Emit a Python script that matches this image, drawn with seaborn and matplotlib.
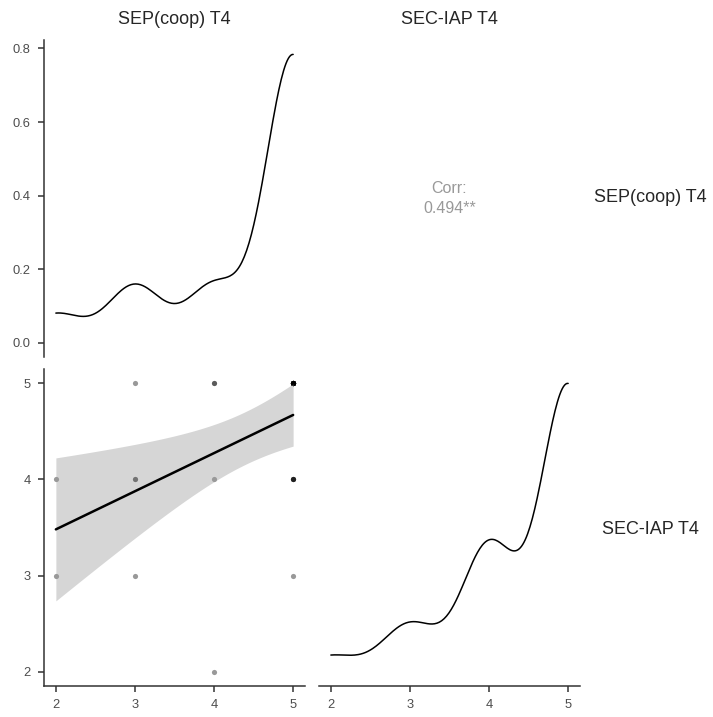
import numpy as np
import pandas as pd
import matplotlib
matplotlib.use("Agg")
import matplotlib.pyplot as plt
import seaborn as sns

# (SEP, SEC) answer pairs and how many respondents gave each pair
sep_vals = [2, 2, 3, 3, 3, 4, 4, 4, 5, 5, 5]
sec_vals = [3, 4, 3, 4, 5, 2, 4, 5, 3, 4, 5]
counts = [1, 1, 1, 2, 1, 1, 1, 2, 1, 4, 15]
var_names = ["SEP(coop) T4", "SEC-IAP T4"]
corr_value = 0.494
corr_stars = "**"
tick_vals = [2, 3, 4, 5]
dens_ticks = [0.0, 0.2, 0.4, 0.6, 0.8]

df = pd.DataFrame({
    var_names[0]: np.repeat(sep_vals, counts),
    var_names[1]: np.repeat(sec_vals, counts),
})

sns.set_style("ticks")
plt.rcParams["font.family"] = ["Liberation Sans", "DejaVu Sans"]

W, H = 713, 717
fig = plt.figure(figsize=(W / 100, H / 100), dpi=100)

AX_COL = "#333333"
TICK_COL = "#4d4d4d"
STRIP_COL = "#262626"


def px_axes(x0, y0, x1, y1):
    return fig.add_axes([x0 / W, 1 - y1 / H, (x1 - x0) / W, (y1 - y0) / H])


def r_bw(x):
    # R's bw.nrd0
    x = np.asarray(x, float)
    sd = x.std(ddof=1)
    iqr = np.percentile(x, 75) - np.percentile(x, 25)
    lo = min(sd, iqr / 1.34)
    return 0.9 * lo * len(x) ** -0.2


def style(ax, left=True, bottom=True):
    for s in ["top", "right"]:
        ax.spines[s].set_visible(False)
    ax.spines["left"].set_visible(left)
    ax.spines["bottom"].set_visible(bottom)
    for s in ["left", "bottom"]:
        ax.spines[s].set_color(AX_COL)
        ax.spines[s].set_linewidth(1.1)
    ax.tick_params(axis="both", length=4.5, width=1.1, color=AX_COL,
                   labelsize=9.3, labelcolor=TICK_COL, pad=5)
    if not left:
        ax.tick_params(axis="y", left=False, labelleft=False)
    if not bottom:
        ax.tick_params(axis="x", bottom=False, labelbottom=False)
    ax.set_xlabel("")
    ax.set_ylabel("")


def density(ax, col):
    x = df[col]
    bw = r_bw(x) / x.std(ddof=1)
    sns.kdeplot(x=x, bw_method=bw, cut=0, color="black", linewidth=1.1, ax=ax)
    ymax = ax.lines[-1].get_ydata().max()
    ax.set_ylim(-0.05 * ymax, 1.05 * ymax)


xlim = (1.85, 5.15)

# top-left: density of SEP
ax_tl = px_axes(44, 40, 305, 357)
density(ax_tl, var_names[0])
ax_tl.set_xlim(xlim)
ax_tl.set_yticks(dens_ticks)
ax_tl.set_yticklabels([f"{v:.1f}" for v in dens_ticks])
style(ax_tl, left=True, bottom=False)

# top-right: correlation text
ax_tr = px_axes(319, 40, 580, 357)
ax_tr.axis("off")
ax_tr.text(0.5, 0.5, f"Corr:\n{corr_value:.3f}{corr_stars}", ha="center", va="center",
           color="#999999", fontsize=11.5, linespacing=1.35, transform=ax_tr.transAxes)

# bottom-left: scatter + lm fit
ax_bl = px_axes(44, 369, 305, 686)
xs, ys = df[var_names[0]].to_numpy(float), df[var_names[1]].to_numpy(float)
sns.scatterplot(x=xs, y=ys, color="black", alpha=0.4, s=14, linewidth=0, ax=ax_bl, zorder=1)
b1, b0 = np.polyfit(xs, ys, 1)
n = len(xs)
resid = ys - (b0 + b1 * xs)
s = np.sqrt((resid ** 2).sum() / (n - 2))
sxx = ((xs - xs.mean()) ** 2).sum()
try:
    from scipy import stats
    tq = stats.t.ppf(0.975, n - 2)
except Exception:
    tq = 2.048
grid = np.linspace(xs.min(), xs.max(), 80)
fit = b0 + b1 * grid
se = s * np.sqrt(1 / n + (grid - xs.mean()) ** 2 / sxx)
ax_bl.fill_between(grid, fit - tq * se, fit + tq * se, color="#999999", alpha=0.4,
                   linewidth=0, zorder=2)
sns.lineplot(x=grid, y=fit, color="black", linewidth=1.8, zorder=3, ax=ax_bl)
ax_bl.set_xlim(xlim)
ax_bl.set_ylim(xlim)
ax_bl.set_xticks(tick_vals)
ax_bl.set_yticks(tick_vals)
style(ax_bl, left=True, bottom=True)

# bottom-right: density of SEC
ax_br = px_axes(319, 369, 580, 686)
density(ax_br, var_names[1])
ax_br.set_xlim(xlim)
ax_br.set_xticks(tick_vals)
style(ax_br, left=False, bottom=True)

# strip labels
for cx, name in zip([174.5, 449.5], var_names):
    fig.text(cx / W, 1 - 20 / H, name, ha="center", va="center",
             fontsize=13, color=STRIP_COL)
for cy, name in zip([198, 529], var_names):
    fig.text(650 / W, 1 - cy / H, name, ha="center", va="center",
             fontsize=13, color=STRIP_COL)

fig.savefig("out.png", dpi=100)
